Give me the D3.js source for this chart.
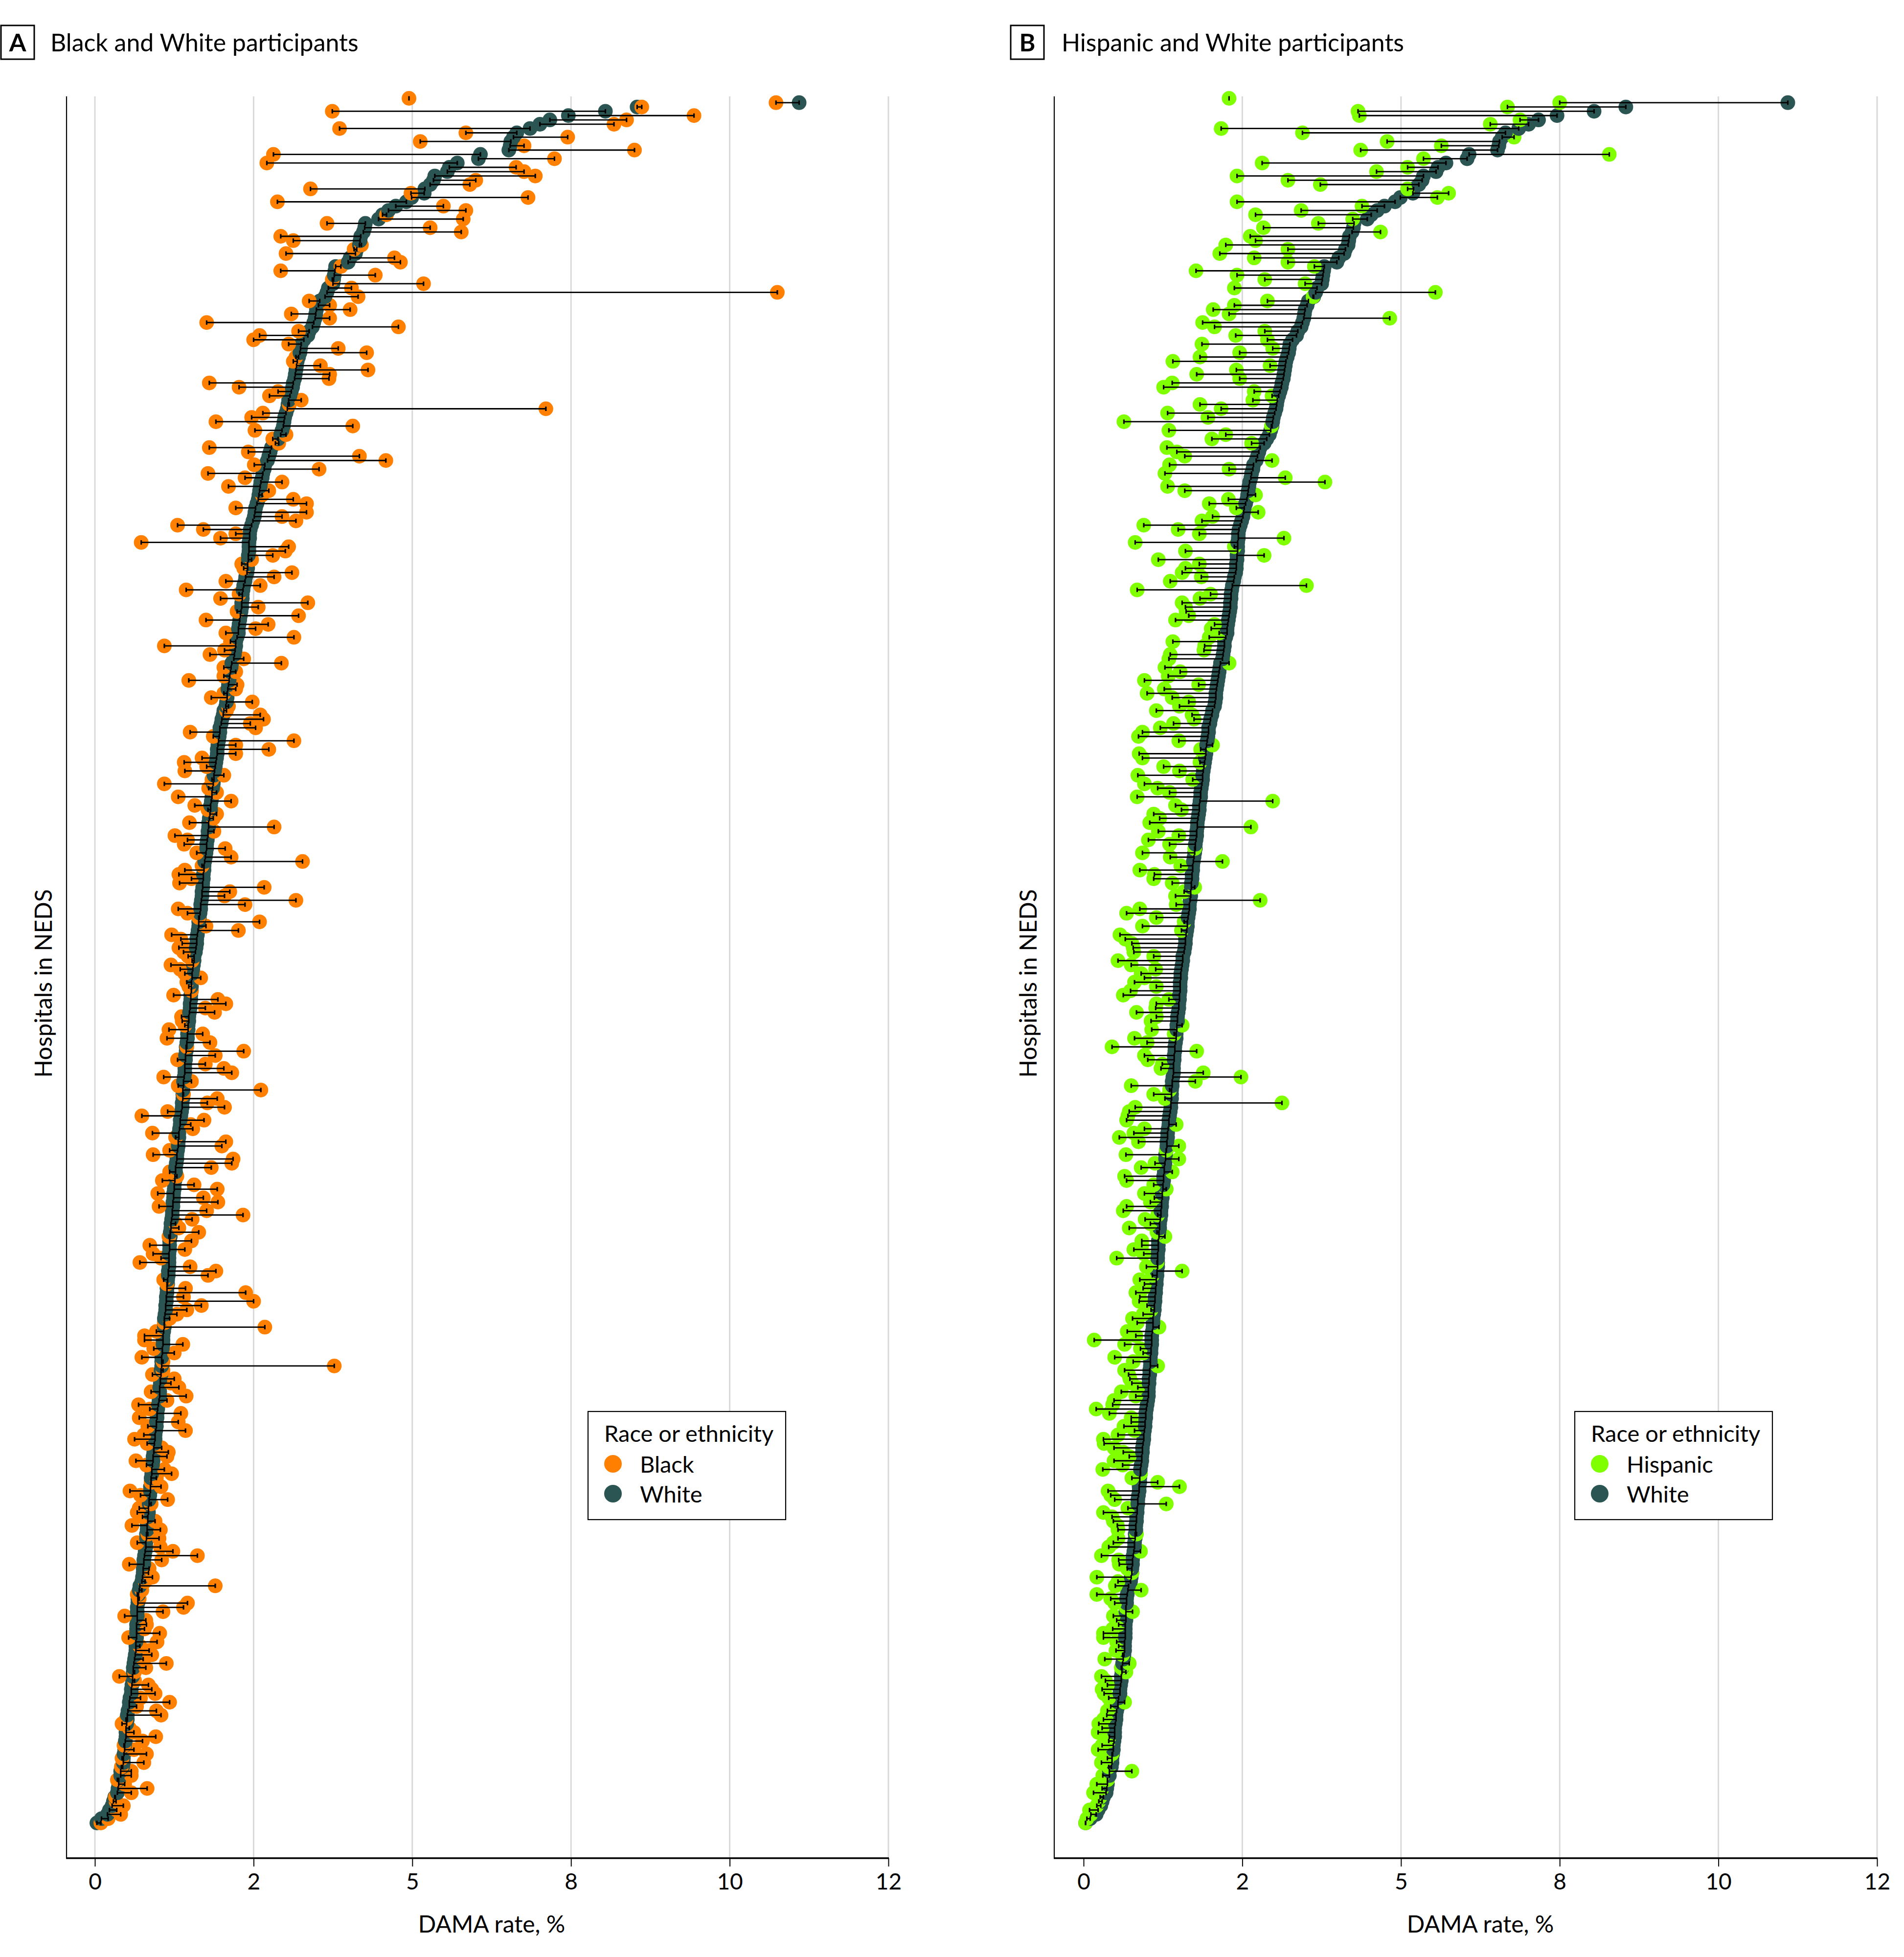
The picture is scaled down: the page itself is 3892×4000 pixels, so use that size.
<!DOCTYPE html>
<html><head><meta charset="utf-8">
<script src="https://cdn.jsdelivr.net/npm/d3@7"></script>
<style>body{margin:0;background:#fff} svg{display:block} text{font-family:Lato,"Open Sans",sans-serif;fill:#000}</style>
</head><body>
<script>
// White DAMA rate per hospital (shared by both panels, sorted); first hospital has no White value
const white = [null,10.65,8.20,7.72,7.16,6.88,6.73,6.58,6.38,6.33,
6.29,6.28,6.26,5.83,5.80,5.48,5.36,5.33,5.14,5.12,
5.07,4.99,4.98,4.79,4.71,4.55,4.44,4.35,4.29,4.09,
4.08,4.06,4.02,4.01,4.00,3.96,3.94,3.86,3.83,3.64,
3.63,3.62,3.61,3.60,3.53,3.51,3.48,3.40,3.38,3.35,
3.34,3.33,3.31,3.29,3.24,3.22,3.16,3.12,3.11,3.10,
3.08,3.06,3.05,3.04,3.03,3.02,3.00,2.99,2.97,2.95,
2.93,2.92,2.91,2.89,2.87,2.86,2.85,2.83,2.81,2.77,
2.73,2.67,2.65,2.63,2.61,2.57,2.56,2.54,2.53,2.51,
2.50,2.49,2.48,2.47,2.45,2.43,2.42,2.41,2.39,2.37,
2.35,
2.34,2.34,2.33,2.33,2.33,2.32,2.32,2.31,2.31,2.30,
2.28,2.27,2.25,2.24,2.23,2.23,2.22,2.22,2.21,2.20,
2.19,2.18,2.17,2.17,2.15,2.13,2.13,2.12,2.11,2.10,
2.07,2.06,2.05,2.04,2.03,2.02,2.01,2.00,2.00,1.99,
1.98,1.95,1.94,1.92,1.91,1.89,1.89,1.88,1.87,1.86,
1.85,1.85,1.84,1.83,1.82,1.81,1.80,1.80,1.79,1.78,
1.77,1.77,1.76,1.75,1.75,1.74,1.73,1.72,1.72,1.71,
1.71,1.70,1.69,1.69,1.68,1.67,1.66,1.65,1.65,1.64,
1.64,1.63,1.63,1.62,1.62,1.61,1.60,1.60,1.59,1.58,
1.57,1.57,1.56,1.55,1.54,1.54,1.53,1.52,1.50,1.50,
1.49,1.48,
1.47,1.47,1.46,1.46,1.46,1.45,1.45,1.44,
1.44,1.43,1.42,1.42,1.41,1.41,1.40,1.40,1.39,1.38,
1.38,1.37,1.37,1.36,1.36,1.36,1.35,1.34,1.34,1.33,
1.33,1.33,1.32,1.32,1.31,1.30,1.29,1.29,1.28,1.27,
1.27,1.26,1.26,1.25,1.24,1.24,1.23,1.22,1.22,1.21,
1.21,1.20,1.20,1.19,1.19,1.18,1.18,1.17,1.17,1.16,
1.15,1.15,1.14,1.14,1.13,1.13,1.13,1.12,1.12,1.12,
1.12,1.11,1.11,1.10,1.10,1.09,1.09,1.08,1.08,1.07,
1.07,1.06,1.05,1.05,1.05,1.04,1.03,1.03,1.03,1.02,
1.02,1.01,1.01,1.01,1.00,1.00,0.99,0.99,0.98,0.98,
0.98,0.97,0.96,0.95,
0.94,0.94,0.93,0.93,0.92,0.91,
0.91,0.90,0.89,0.89,0.88,0.88,0.87,0.86,0.86,0.85,
0.85,0.84,0.84,0.83,0.82,0.82,0.81,0.81,0.80,0.80,
0.79,0.79,0.78,0.78,0.77,0.77,0.76,0.75,0.74,0.74,
0.73,0.73,0.72,0.71,0.68,0.67,0.66,0.65,0.65,0.64,
0.64,0.64,0.64,0.63,0.63,0.63,0.63,0.62,0.62,0.62,
0.61,0.60,0.59,0.58,0.58,0.57,0.57,0.56,0.55,0.55,
0.53,0.52,0.52,0.50,0.49,0.49,0.48,0.47,0.47,0.47,
0.46,0.45,0.45,0.44,0.43,0.43,0.42,0.39,0.39,0.36,
0.36,0.35,0.34,0.30,0.28,0.26,0.22,0.19,0.10,0.03];

// Black DAMA rate per hospital (panel A)
const black = [4.75,10.30,8.27,3.59,9.06,8.04,7.85,3.70,5.61,7.15,
4.92,6.49,8.16,2.70,6.95,2.60,6.37,6.49,6.66,5.76,
5.67,3.26,4.78,6.55,2.76,5.27,5.61,4.41,5.57,3.51,
5.07,5.54,2.81,3.00,4.03,3.92,2.89,4.53,4.62,3.72,
2.81,4.24,3.59,4.97,3.88,10.32,3.98,3.24,3.55,3.86,
2.97,3.55,1.69,4.59,3.08,2.49,2.40,2.93,3.68,4.11,
3.04,3.00,3.41,4.13,3.55,3.54,1.73,2.18,2.77,2.64,
3.12,2.94,6.82,2.54,2.37,1.83,3.90,2.42,2.89,2.69,
2.78,1.73,2.32,4.00,4.40,2.41,3.39,1.71,2.27,2.83,
2.02,2.63,2.53,3.00,3.20,2.13,3.20,2.83,3.04,1.25,
1.64,
2.13,1.90,0.70,2.93,2.88,2.69,2.37,2.22,2.25,2.98,
2.71,1.98,2.50,1.38,2.18,1.90,3.22,2.47,2.15,3.08,
1.68,2.62,2.43,1.98,3.01,2.05,1.05,1.96,1.74,2.25,
2.82,1.95,2.13,1.95,1.42,2.15,2.13,1.95,1.76,2.38,
2.02,1.99,2.50,2.55,2.35,2.43,1.44,1.79,3.01,2.13,
2.63,2.13,1.62,1.35,1.69,1.36,1.95,1.77,1.05,1.72,
1.84,1.26,2.06,1.51,1.71,1.84,1.79,1.43,2.71,1.80,
1.21,1.40,1.35,1.97,1.54,2.06,3.14,1.62,1.36,1.27,
1.46,1.28,2.56,2.04,1.96,3.04,2.27,1.26,1.40,1.57,
2.49,1.68,2.17,1.16,1.30,1.32,1.27,1.34,1.41,1.47,
1.15,1.29,
1.36,1.60,1.39,1.42,1.46,1.19,1.86,1.98,
1.67,1.81,1.31,1.32,1.36,1.12,1.63,1.09,1.74,1.39,
2.25,1.82,1.25,1.67,1.95,2.07,1.04,1.46,1.26,2.51,
1.34,1.85,1.70,1.96,1.10,0.71,1.65,1.45,1.48,0.87,
1.22,1.98,1.92,1.13,0.88,2.09,2.07,1.76,1.13,1.24,
1.02,1.50,1.85,0.95,1.64,1.86,0.97,1.69,2.24,1.47,
1.22,1.27,1.57,1.12,1.46,0.83,1.36,0.88,1.00,0.68,
1.44,1.83,1.71,1.04,1.09,1.37,2.28,1.34,2.40,1.61,
1.39,1.24,1.13,1.05,2.57,0.93,0.75,0.75,1.33,0.89,
1.20,0.71,1.03,3.62,1.03,0.87,1.20,1.15,1.27,0.85,
1.38,1.09,0.66,0.83,
1.30,0.67,1.26,0.80,1.37,0.74,
0.60,0.79,1.01,1.11,1.09,0.62,0.78,1.05,1.16,0.93,
0.85,1.00,0.53,0.69,1.10,0.85,0.67,0.64,0.72,0.91,
0.56,0.99,0.80,0.97,0.64,0.99,1.18,1.55,1.01,0.52,
0.82,0.81,0.87,0.76,1.82,0.71,0.64,0.67,1.40,1.34,
1.03,0.45,0.77,0.78,0.75,0.98,0.51,0.94,0.68,0.82,
0.86,0.73,1.08,0.77,0.60,0.37,0.60,0.81,0.86,0.91,
0.69,1.13,0.63,0.93,1.00,0.47,0.41,0.52,0.59,0.92,
0.72,0.44,0.59,0.78,0.41,0.74,0.40,0.55,0.55,0.34,
0.45,0.79,0.55,0.31,0.32,0.43,0.33,0.39,0.20,0.09];

// Hispanic DAMA rate per hospital (panel B)
const hispanic = [2.20,7.20,6.41,4.15,4.17,6.60,6.15,2.08,3.31,6.51,
4.59,5.41,4.19,7.95,5.14,2.70,4.90,4.43,2.32,3.09,
3.58,4.90,5.52,5.35,2.32,4.21,3.29,2.60,4.07,3.55,
2.72,4.49,2.52,2.60,2.15,3.09,2.06,2.58,3.09,3.49,
1.70,2.32,2.74,3.35,2.28,5.32,3.47,2.78,2.28,1.96,
2.20,4.63,1.80,1.98,2.74,2.30,2.78,1.79,2.86,2.36,
1.76,1.35,2.82,2.31,1.71,2.36,1.34,1.21,2.58,2.85,
2.56,1.76,2.08,1.27,1.88,0.61,2.84,1.29,2.15,1.94,
2.54,1.26,1.41,1.53,2.85,1.30,2.20,1.23,3.05,3.65,
1.27,1.53,2.60,2.19,1.90,2.31,2.64,1.95,1.79,0.91,
1.43,
1.75,3.03,0.78,2.28,1.54,2.73,1.13,1.75,1.54,1.49,
1.78,1.31,3.37,0.81,1.92,1.76,1.49,1.54,1.55,1.59,
1.39,1.98,1.93,2.05,1.90,1.35,1.83,1.82,1.31,1.29,
2.20,1.23,1.46,1.28,0.92,1.74,1.22,0.96,1.34,1.59,
1.45,1.10,1.64,1.67,1.36,1.16,0.89,0.83,1.44,1.95,
1.77,0.84,0.89,1.76,1.21,1.45,0.82,1.65,0.92,1.12,
1.30,0.81,2.86,1.39,1.48,1.06,1.15,1.00,2.53,1.13,
1.44,0.98,1.30,1.68,0.89,1.31,2.10,1.47,0.85,1.07,
1.06,1.34,1.68,1.52,1.39,2.67,1.40,0.85,0.65,1.10,
1.52,0.89,1.48,0.55,0.63,0.73,0.75,0.76,1.06,0.52,
0.72,1.09,
0.87,0.92,0.77,1.10,0.71,0.60,1.29,1.10,
1.09,0.80,1.10,1.02,1.49,1.03,1.37,0.77,0.96,0.43,
1.71,0.92,0.97,1.19,1.17,1.81,2.38,1.69,0.72,1.30,
1.06,1.23,3.00,0.78,0.69,0.67,0.65,1.40,0.92,0.76,
0.54,0.83,1.44,1.25,0.64,1.44,1.08,0.87,1.34,0.62,
0.65,1.06,1.25,0.92,1.07,1.01,0.65,0.60,1.12,0.93,
1.01,0.69,1.11,1.23,0.88,0.88,0.76,0.91,0.50,1.11,
0.95,1.49,1.04,0.85,0.92,0.90,0.79,0.85,0.84,0.96,
1.02,0.90,0.74,0.81,1.14,0.66,0.79,0.16,0.62,0.86,
0.90,0.47,0.75,1.12,0.62,0.68,0.70,0.73,0.82,0.57,
0.79,0.46,0.44,0.19,
0.39,0.72,0.72,0.61,0.77,0.52,
0.30,0.31,0.46,0.60,0.69,0.46,0.59,0.29,0.86,0.73,
1.12,1.45,0.37,0.41,0.47,1.25,0.67,0.30,0.43,0.45,
0.51,0.52,0.80,0.52,0.45,0.38,0.86,0.27,0.53,0.54,
0.66,0.73,0.20,0.52,0.48,0.87,0.20,0.41,0.47,0.64,
0.74,0.45,0.50,0.53,0.44,0.30,0.30,0.50,0.53,0.49,
0.59,0.32,0.69,0.57,0.64,0.27,0.33,0.36,0.28,0.31,
0.38,0.62,0.41,0.36,0.35,0.30,0.23,0.28,0.22,0.39,
0.38,0.28,0.22,0.43,0.36,0.27,0.38,0.73,0.29,0.36,
0.20,0.28,0.15,0.25,0.23,0.20,0.09,0.11,0.05,0.03];

const tickValues = [0, 2.4, 4.8, 7.2, 9.6, 12];
const tickLabels = ["0", "2", "5", "8", "10", "12"];
const panelLetters = ["A", "B"];
const panelTitles = ["Black and White participants", "Hispanic and White participants"];
const groupLabels = ["Black", "Hispanic"];
const referenceLabel = "White";
const legendTitle = "Race or ethnicity";
const xTitle = "DAMA rate, %";
const yTitle = "Hospitals in NEDS";

if (white.length !== 401 || black.length !== 401 || hispanic.length !== 401) {
  throw new Error("lengths " + white.length + " " + black.length + " " + hispanic.length);
}

const W = 3892, H = 4000;
const WHITE_COLOR = "#2B5552";
const panels = [
  {values: black, color: "#FF8000", boxX: 2, titleX: 103, axisX: 136, x0: 194, x1: 1816, legendX: 1202, yTitleX: 89, zeroGrid: true},
  {values: hispanic, color: "#7FFF00", boxX: 2066, titleX: 2170, axisX: 2155, x0: 2215, x1: 3837, legendX: 3219, yTitleX: 2102, zeroGrid: false}
];
const plotTop = 197, plotBottom = 3798;

const svg = d3.select("body").append("svg").attr("width", W).attr("height", H);
const idx = d3.range(white.length);
const drawOrder = idx.slice().reverse(); // lowest-ranked hospitals drawn first
const y = d3.scalePoint().domain(idx).range([201, 3726]);

panels.forEach((p, pi) => {
  const g = svg.append("g");
  const x = d3.scaleLinear().domain([0, 12]).range([p.x0, p.x1]);

  // gridlines
  g.append("g").selectAll("line")
    .data(tickValues.filter(t => p.zeroGrid || t !== 0))
    .join("line")
    .attr("x1", d => x(d)).attr("x2", d => x(d))
    .attr("y1", plotTop).attr("y2", plotBottom)
    .attr("stroke", "#d9d9d9").attr("stroke-width", 3);

  // dots, drawn hospital by hospital (White first, then the compared group)
  const pts = [];
  drawOrder.forEach(i => {
    if (white[i] != null) pts.push({i, v: white[i], c: WHITE_COLOR});
    pts.push({i, v: p.values[i], c: p.color});
  });
  g.append("g").selectAll("circle")
    .data(pts).join("circle")
    .attr("cx", d => x(d.v)).attr("cy", d => y(d.i))
    .attr("r", 15).attr("fill", d => d.c);

  // connecting segments
  g.append("g").selectAll("line")
    .data(idx.filter(i => white[i] != null)).join("line")
    .attr("x1", i => x(white[i])).attr("x2", i => x(p.values[i]))
    .attr("y1", i => y(i)).attr("y2", i => y(i))
    .attr("stroke", "#000").attr("stroke-width", 2.8);

  // end caps
  const caps = [];
  idx.forEach(i => {
    caps.push({i, v: p.values[i]});
    if (white[i] != null) caps.push({i, v: white[i]});
  });
  g.append("g").selectAll("rect")
    .data(caps).join("rect")
    .attr("x", d => x(d.v) - 1.6).attr("y", d => y(d.i) - 4.5)
    .attr("width", 3.2).attr("height", 9).attr("fill", "#000");

  // y axis line
  g.append("line")
    .attr("x1", p.axisX).attr("x2", p.axisX)
    .attr("y1", plotTop).attr("y2", plotBottom)
    .attr("stroke", "#000").attr("stroke-width", 2.2);

  // x axis
  const axis = d3.axisBottom(x).tickValues(tickValues)
    .tickFormat((d, i) => tickLabels[i]).tickSize(17).tickPadding(14).tickSizeOuter(0);
  const ax = g.append("g").attr("transform", `translate(0,${plotBottom})`).call(axis);
  ax.select(".domain").remove();
  ax.selectAll(".tick line").attr("stroke", "#000").attr("stroke-width", 2);
  ax.selectAll(".tick text").attr("font-size", 46).attr("font-family", "Lato, 'Open Sans', sans-serif");
  g.append("line")
    .attr("x1", p.axisX - 1).attr("x2", p.x1 + 1)
    .attr("y1", plotBottom).attr("y2", plotBottom)
    .attr("stroke", "#000").attr("stroke-width", 3.5);

  // axis titles
  g.append("text").attr("x", (p.x0 + p.x1) / 2).attr("y", 3950)
    .attr("text-anchor", "middle").attr("font-size", 48).text(xTitle);
  g.append("text")
    .attr("transform", `translate(${p.yTitleX},2010) rotate(-90)`)
    .attr("text-anchor", "middle").attr("dy", "0.35em")
    .attr("font-size", 48).text(yTitle);

  // panel header
  g.append("rect").attr("x", p.boxX).attr("y", 52).attr("width", 68).attr("height", 69)
    .attr("fill", "#fff").attr("stroke", "#000").attr("stroke-width", 3);
  g.append("text").attr("x", p.boxX + 34).attr("y", 105)
    .attr("text-anchor", "middle").attr("font-size", 50).attr("font-weight", "bold")
    .text(panelLetters[pi]);
  g.append("text").attr("x", p.titleX).attr("y", 105)
    .attr("font-size", 50).text(panelTitles[pi]);

  // legend
  const lg = g.append("g").attr("transform", `translate(${p.legendX},2885)`);
  lg.append("rect").attr("width", 404).attr("height", 221)
    .attr("fill", "#fff").attr("stroke", "#000").attr("stroke-width", 2.2);
  lg.append("text").attr("x", 33).attr("y", 62).attr("font-size", 47).text(legendTitle);
  const items = [{label: groupLabels[pi], color: p.color}, {label: referenceLabel, color: WHITE_COLOR}];
  items.forEach((it, k) => {
    lg.append("circle").attr("cx", 51).attr("cy", 107 + k * 61).attr("r", 18).attr("fill", it.color);
    lg.append("text").attr("x", 106).attr("y", 125 + k * 61).attr("font-size", 47).text(it.label);
  });
});
</script>
</body></html>
